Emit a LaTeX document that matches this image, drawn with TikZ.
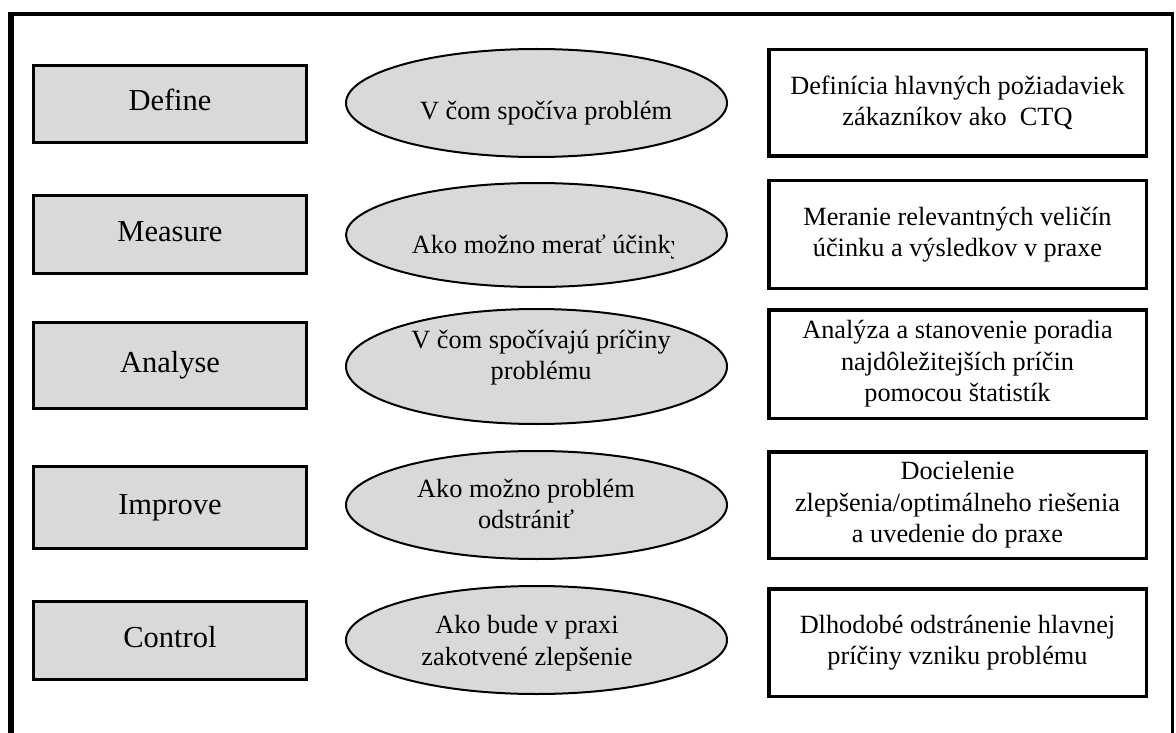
\documentclass[tikz,border=0pt]{standalone}
\usepackage{fontspec}
\setmainfont{Liberation Serif}
\usetikzlibrary{shapes.geometric}
\definecolor{boxgray}{RGB}{217,217,217}
\begin{document}
\begin{tikzpicture}[x=1pt,y=-1pt,
  phase/.style={draw=black, line width=3pt, fill=boxgray, minimum width=273pt,
    inner sep=0pt, font=\fontsize{30.5}{36}\selectfont, text height=22pt, text depth=8pt},
  question/.style={ellipse, draw=black, line width=2pt, fill=boxgray,
    minimum width=381pt, inner sep=0pt},
  qtext/.style={font=\fontsize{26.3}{31.6}\selectfont, align=center, inner sep=0pt},
  goal/.style={draw=black, line width=3.5pt, fill=white, minimum width=377.5pt,
    inner sep=0pt, align=center, font=\fontsize{26.3}{31.6}\selectfont},
]
\useasboundingbox (0,0) rectangle (1176,733);

% outer frame, open at the bottom
\begin{scope}
  \clip (0,0) rectangle (1176,733);
  \draw[line width=5.5pt] (11,745) -- (11,12);
  \draw[line width=4pt] (8.25,14) -- (1173.75,14);
  \draw[line width=2.5pt] (1172.5,12) -- (1172.5,745);
\end{scope}

% DMAIC phases
\node[phase, minimum height=77pt] (define)  at (170,104)   {Define};
\node[phase, minimum height=78pt] (measure) at (170,234.5) {Measure};
\node[phase, minimum height=86pt] (analyse) at (170,365.5) {Analyse};
\node[phase, minimum height=82pt] (improve) at (170,507.5) {Improve};
\node[phase, minimum height=78pt] (control) at (170,640.5) {Control};

% key questions
\node[question, minimum height=108pt] (q1) at (536.5,103)   {};
\node[question, minimum height=104pt] (q2) at (536.5,235)   {};
\node[question, minimum height=115pt] (q3) at (536.5,366.5) {};
\node[question, minimum height=108pt] (q4) at (536.5,505)   {};
\node[question, minimum height=108pt] (q5) at (536.5,640)   {};

\node[qtext, anchor=base] (q1t) at (546,120) {V čom spočíva problém};
\begin{scope}
  \clip (400,190) rectangle (673,275);
  \node[qtext, anchor=base west] (q2t) at (411.7,253) {Ako možno merať účinky};
\end{scope}
\node[qtext] (q3t) at (541,357.5) {V čom spočívajú príčiny\\problému};
\node[qtext] (q4t) at (526,504)   {Ako možno problém\\odstrániť};
\node[qtext] (q5t) at (527,643)   {Ako bude v praxi\\zakotvené zlepšenie};

% goals of each phase
\node[goal, minimum height=106.5pt] (g1) at (957.5,103)
  {Definícia hlavných požiadaviek\\zákazníkov ako\ \ CTQ};
\node[goal, minimum height=107.5pt] (g2) at (957.5,234.5)
  {Meranie relevantných veličín\\účinku a výsledkov v praxe};
\node[goal, minimum height=108.5pt] (g3) at (957.5,364)
  {Analýza a stanovenie poradia\\najdôležitejších príčin\\pomocou štatistík};
\node[goal, minimum height=106.5pt] (g4) at (957.5,505)
  {Docielenie\\zlepšenia/optimálneho riešenia\\a uvedenie do praxe};
\node[goal, minimum height=107.5pt] (g5) at (957.5,642.5)
  {Dlhodobé odstránenie hlavnej\\príčiny vzniku problému};
\end{tikzpicture}
\end{document}
